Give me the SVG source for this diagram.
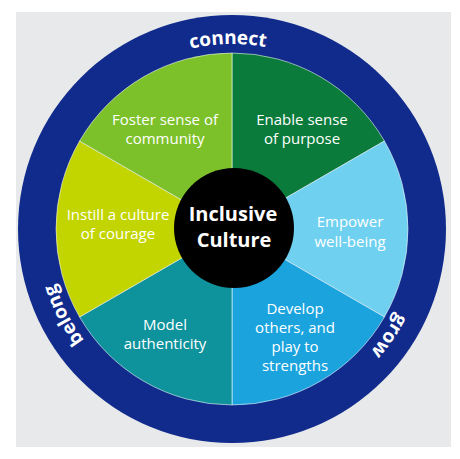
<svg xmlns="http://www.w3.org/2000/svg" xmlns:xlink="http://www.w3.org/1999/xlink" width="460" height="459" viewBox="0 0 460 459">
<style>
.seg{stroke:#ffffff;stroke-opacity:0.55;stroke-width:1}
.lbl{font-family:"Open Sans","Liberation Sans",sans-serif;font-size:15px;fill:#ffffff;text-anchor:middle}
.ring{font-family:"Open Sans","Liberation Sans",sans-serif;font-size:19px;font-weight:bold;fill:#ffffff;text-anchor:middle}
.core{font-family:"Open Sans","Liberation Sans",sans-serif;font-size:20px;font-weight:bold;fill:#ffffff;text-anchor:middle}
</style>
<defs>
<path id="ringPath" d="M232,414 A185,185 0 1 1 232,44 A185,185 0 1 1 232,414"/>
</defs>
<rect x="0" y="0" width="460" height="459" fill="#ffffff"/>
<rect x="16" y="12" width="435" height="435" fill="#e8e9ea"/>
<g id="ring">
<circle cx="232" cy="229" r="214" fill="#102b8c"/>
<text class="ring"><textPath xlink:href="#ringPath" href="#ringPath" startOffset="577">connect</textPath></text>
<text class="ring"><textPath xlink:href="#ringPath" href="#ringPath" startOffset="203">belong</textPath></text>
<text class="ring"><textPath xlink:href="#ringPath" href="#ringPath" startOffset="982">grow</textPath></text>
</g>
<g id="enable">
<path class="seg" fill="#0b7b3b" d="M232,229 L232,53 A176,176 0 0 1 384.42,141 Z"/>
<text class="lbl"><tspan x="302" y="125">Enable sense</tspan><tspan x="302" y="144">of purpose</tspan></text>
</g>
<g id="empower">
<path class="seg" fill="#6fd1ef" d="M232,229 L384.42,141 A176,176 0 0 1 384.42,317 Z"/>
<text class="lbl"><tspan x="350" y="227">Empower</tspan><tspan x="350" y="247">well-being</tspan></text>
</g>
<g id="develop">
<path class="seg" fill="#1ba3de" d="M232,229 L384.42,317 A176,176 0 0 1 232,405 Z"/>
<text class="lbl"><tspan x="295" y="314">Develop</tspan><tspan x="295" y="333">others, and</tspan><tspan x="295" y="352">play to</tspan><tspan x="295" y="371">strengths</tspan></text>
</g>
<g id="model">
<path class="seg" fill="#0e929c" d="M232,229 L232,405 A176,176 0 0 1 79.58,317 Z"/>
<text class="lbl"><tspan x="165" y="330">Model</tspan><tspan x="165" y="349">authenticity</tspan></text>
</g>
<g id="instill">
<path class="seg" fill="#c3d500" d="M232,229 L79.58,317 A176,176 0 0 1 79.58,141 Z"/>
<text class="lbl"><tspan x="118" y="220">Instill a culture</tspan><tspan x="118" y="239">of courage</tspan></text>
</g>
<g id="foster">
<path class="seg" fill="#7cc12a" d="M232,229 L79.58,141 A176,176 0 0 1 232,53 Z"/>
<text class="lbl"><tspan x="165" y="125">Foster sense of</tspan><tspan x="165" y="144">community</tspan></text>
</g>
<g id="center">
<circle cx="234" cy="228" r="60" fill="#000000"/>
<text class="core"><tspan x="233" y="221">Inclusive</tspan><tspan x="234" y="247">Culture</tspan></text>
</g>
</svg>
